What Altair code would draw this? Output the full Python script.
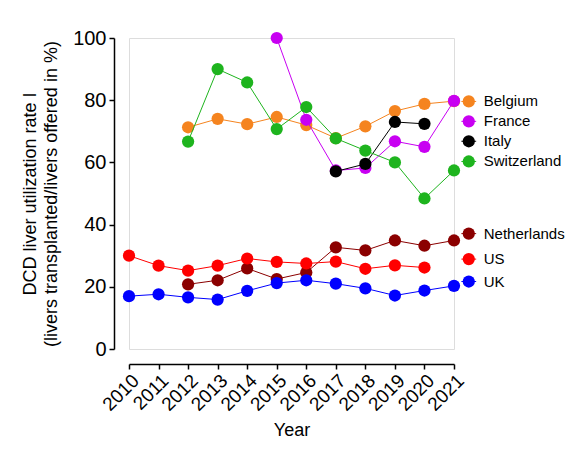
import altair as alt
import pandas as pd

years = list(range(2010, 2022))
countries = ["Belgium", "France", "Italy", "Switzerland", "Netherlands", "US", "UK"]
colors = ["#F5841F", "#C800F2", "#000000", "#1EB41E", "#8B0000", "#FF0000", "#0000FF"]

belgium = [None, None, 71.3, 74.0, 72.3, 74.6, 72.0, 67.8, 71.6, 76.5, 78.8, 79.7]
france = [None, None, None, None, None, 100.0, 73.7, 57.4, 58.2, 66.8, 65.0, 79.8]
italy = [None, None, None, None, None, None, None, 57.1, 59.5, 73.0, 72.4, None]
switzerland = [None, None, 66.7, 90.0, 85.7, 70.7, 77.8, 67.7, 63.8, 60.0, 48.4, 57.4]
netherlands = [None, None, 20.8, 22.1, 25.9, 22.5, 24.6, 32.7, 31.7, 34.9, 33.2, 34.9]
us = [30.0, 26.8, 25.2, 26.8, 29.1, 28.0, 27.5, 28.1, 25.8, 26.9, 26.2, None]
uk = [17.0, 17.6, 16.6, 15.9, 18.7, 21.2, 22.1, 21.0, 19.5, 17.2, 18.8, 20.3]

series = [belgium, france, italy, switzerland, netherlands, us, uk]

# legend rows (label positions in data units, right of the last year)
legend_x = 2021.5
legend_y = [79.6, 73.2, 66.8, 60.3, 37.1, 28.9, 21.7]

rows = []
for c, vals in zip(countries, series):
    for yr, v in zip(years, vals):
        if v is not None:
            rows.append({"country": c, "year": yr, "value": v})
df = pd.DataFrame(rows)

leg = pd.DataFrame({
    "country": countries,
    "year": [legend_x] * len(countries),
    "x_lo": [legend_x - 0.25] * len(countries),
    "x_hi": [legend_x + 0.25] * len(countries),
    "value": legend_y,
})

FONT = "Liberation Sans"

color_scale = alt.Scale(domain=countries, range=colors)
x_scale = alt.Scale(domain=[2010, 2021], nice=False, zero=False)
y_scale = alt.Scale(domain=[0, 100], nice=False)

x_axis = alt.Axis(
    values=years, format="d", labelAngle=-45, labelAlign="right", labelBaseline="top",
    labelFontSize=19, labelFont=FONT, labelColor="black", labelPadding=2,
    labelOverlap=False, labelBound=False, labelFlush=False,
    title="Year", titleFontSize=18, titleFont=FONT, titleFontWeight="normal",
    titleColor="black", titlePadding=7,
    offset=15, grid=False, domainColor="black", domainWidth=1.5,
    tickColor="black", tickWidth=1.5, tickSize=5,
)
y_axis = alt.Axis(
    values=[0, 20, 40, 60, 80, 100], labelFontSize=20, labelFont=FONT, labelColor="black",
    labelPadding=3, labelOverlap=False, labelFlush=False,
    title=["DCD liver utilization rate I", "(livers transplanted/livers offered in %)"],
    titleFontSize=18, titleFont=FONT, titleFontWeight="normal", titleColor="black",
    titlePadding=12, titleLineHeight=21,
    offset=15, grid=False, domainColor="black", domainWidth=1.5,
    tickColor="black", tickWidth=1.5, tickSize=5,
)

X = alt.X("year:Q", scale=x_scale, axis=x_axis)
Y = alt.Y("value:Q", scale=y_scale, axis=y_axis)
C = alt.Color("country:N", scale=color_scale, legend=None)

layers = []
for c in countries:
    base = alt.Chart(df).transform_filter(alt.datum.country == c).encode(x=X, y=Y, color=C)
    layers.append(base.mark_line(strokeWidth=1))
    layers.append(base.mark_point(filled=True, size=150, opacity=1, shape="circle"))

leg_base = alt.Chart(leg).encode(y=Y, color=C)
leg_rule = leg_base.mark_rule(strokeWidth=1).encode(
    x=alt.X("x_lo:Q", scale=x_scale, axis=x_axis), x2="x_hi:Q"
)
leg_pt = leg_base.mark_point(filled=True, size=150, opacity=1, shape="circle").encode(x=X)
leg_txt = alt.Chart(leg).mark_text(
    align="left", baseline="middle", dx=15, fontSize=15, font=FONT, color="black"
).encode(x=X, y=Y, text="country:N")

chart = alt.layer(*layers, leg_rule, leg_pt, leg_txt).properties(
    width=325, height=311,
    autosize=alt.AutoSizeParams(type="none"),
    padding={"left": 121, "top": 30, "right": 112, "bottom": 95},
).configure_view(strokeWidth=0, stroke="transparent").configure(background="white")

chart.save("out.html", embed_options={"renderer": "svg", "actions": False})
